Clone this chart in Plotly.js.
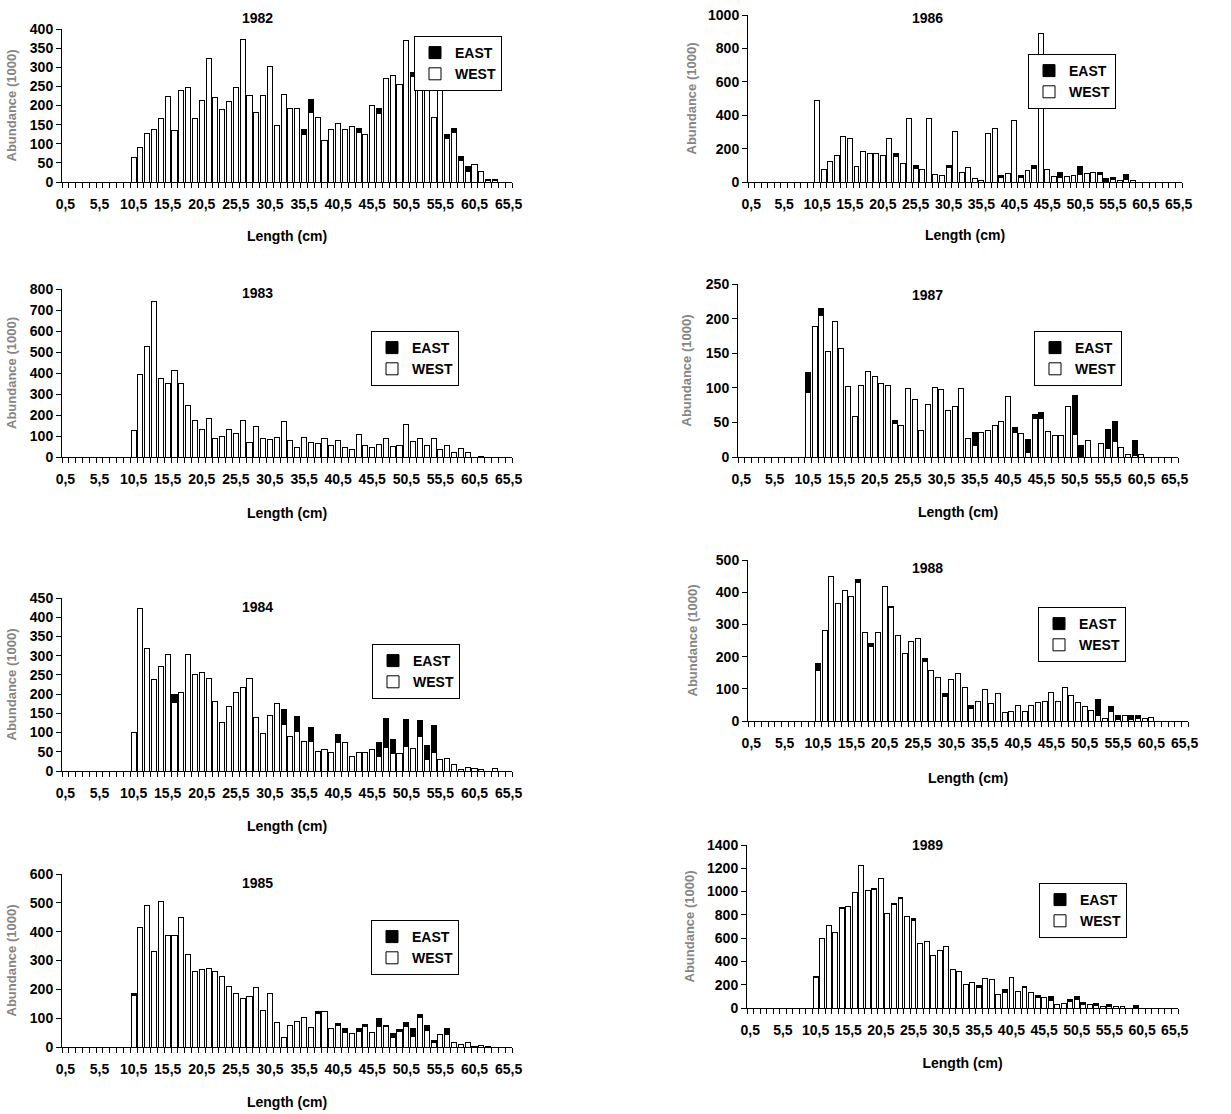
<!DOCTYPE html>
<html>
<head>
<meta charset="utf-8">
<script src="https://cdn.plot.ly/plotly-3.0.1.min.js"></script>
<style>html,body{margin:0;padding:0;background:#fff;}#chart{width:1231px;height:1114px;}</style>
</head>
<body>
<div id="chart"></div>
<script>
// Length classes (cm), one per category on the x axis
const lengthClasses = [0.5,1.5,2.5,3.5,4.5,5.5,6.5,7.5,8.5,9.5,10.5,11.5,12.5,13.5,14.5,15.5,16.5,17.5,18.5,19.5,
  20.5,21.5,22.5,23.5,24.5,25.5,26.5,27.5,28.5,29.5,30.5,31.5,32.5,33.5,34.5,35.5,36.5,37.5,38.5,39.5,
  40.5,41.5,42.5,43.5,44.5,45.5,46.5,47.5,48.5,49.5,50.5,51.5,52.5,53.5,54.5,55.5,56.5,57.5,58.5,59.5,
  60.5,61.5,62.5,63.5,64.5,65.5];
const tickValues = [0.5,5.5,10.5,15.5,20.5,25.5,30.5,35.5,40.5,45.5,50.5,55.5,60.5,65.5];
const tickLabels = ["0,5","5,5","10,5","15,5","20,5","25,5","30,5","35,5","40,5","45,5","50,5","55,5","60,5","65,5"];
const seriesNames = ["WEST","EAST"];
const years = ["1982","1983","1984","1985","1986","1987","1988","1989"];

// Abundance (1000), series start at the 10,5 cm class
const west1982 = [65,90,128,137,165,223,135,238,248,167, 213,322,222,190,210,247,373,227,182,225,
  303,147,230,193,193,125,182,168,108,138, 153,137,145,129,125,200,179,270,278,255,
  370,277,290,255,168,288,115,130,55,28, 47,28,3,3];
const east1982 = [0,0,0,0,0,0,0,0,0,0, 0,0,0,0,0,0,0,0,0,0,
  0,0,0,0,0,13,35,0,0,0, 0,0,0,10,0,0,12,0,0,0,
  0,10,37,10,0,0,10,10,12,13, 0,0,4,3];

const west1983 = [128,394,528,740,373,351,412,348,245,175, 130,184,89,98,129,114,175,70,145,89,
  84,94,170,78,45,92,67,62,89,54, 80,45,35,105,57,45,60,86,52,57,
  153,72,87,57,89,37,57,22,40,20, 0,4];
const east1983 = [0,0,0,0,0,0,0,0,0,0, 0,0,0,0,0,0,0,0,0,0,
  0,0,0,0,0,0,0,0,0,0, 0,0,0,0,0,0,0,0,0,0,
  0,0,0,0,0,0,0,0,0,0, 0,0];

const west1984 = [100,422,318,238,273,302,178,204,302,250, 256,240,182,125,168,205,217,241,140,97,
  144,176,120,89,104,78,78,51,57,49, 73,74,38,47,47,57,38,62,45,46,
  65,59,91,31,47,29,32,16,4,10, 7,3,0,7];
const east1984 = [0,0,0,0,0,0,22,0,0,0, 0,0,0,0,0,0,0,0,0,0,
  0,0,39,0,37,0,35,0,0,0, 22,0,0,0,0,0,36,75,37,0,
  70,0,40,36,71,0,0,0,0,0, 0,0,0,0];

const west1985 = [178,416,492,330,503,385,385,448,322,263, 270,273,263,245,211,185,167,175,205,126,
  187,86,32,73,88,103,67,117,124,64, 73,52,46,54,72,51,72,71,34,53,
  72,37,104,57,14,44,43,15,9,14, 2,4,2];
const east1985 = [6,0,0,0,0,0,0,0,0,0, 0,0,0,0,0,0,0,0,0,0,
  0,0,0,0,0,0,0,7,0,0, 8,12,0,10,7,0,26,5,12,6,
  14,27,8,19,9,0,21,0,0,0, 0,0,0];

const west1986 = [490,75,120,158,275,262,95,183,168,168, 160,258,155,113,378,82,75,378,42,36,
  84,300,54,86,20,12,288,322,24,50, 368,24,70,80,888,72,32,28,32,36,
  46,52,58,45,5,14,8,14,8];
const east1986 = [0,0,0,0,0,0,0,0,0,0, 0,0,15,0,0,16,0,0,0,0,
  16,0,0,0,0,0,0,0,16,0, 0,12,0,16,0,0,0,26,0,0,
  44,0,0,13,15,10,2,28,0];

const west1987 = [93,189,205,153,196,157,102,59,104,123, 117,106,103,49,45,99,83,38,76,100,
  97,67,73,99,27,16,36,38,45,52, 87,35,34,7,55,55,37,31,31,73,
  32,0,24,0,19,13,23,14,4,2, 3];
const east1987 = [29,0,9,0,0,0,0,0,0,0, 0,0,0,4,0,0,0,0,0,0,
  0,0,0,0,0,20,0,0,0,0, 0,8,0,19,6,9,0,0,0,0,
  57,16,0,0,0,27,29,0,0,22, 0];

const west1988 = [156,280,450,364,405,387,430,274,230,276, 419,352,264,211,246,256,186,156,135,75,
  129,149,103,40,62,97,55,86,26,29, 48,31,48,59,62,89,61,103,78,56,
  44,32,16,9,30,5,16,4,9,8, 12];
const east1988 = [24,0,0,0,0,0,10,0,10,0, 0,5,0,0,0,0,8,0,0,10,
  0,0,0,8,0,0,0,0,0,0, 0,0,0,0,0,0,0,0,0,0,
  0,0,52,0,14,13,0,13,7,0, 0];

const west1989 = [262,600,705,650,851,875,995,1220,1010,1020, 1110,815,889,943,785,754,550,575,450,490,
  530,330,315,200,215,180,250,242,118,137, 258,143,174,137,91,86,66,29,40,57,
  71,29,29,23,11,9,11,11,0,3];
const east1989 = [8,0,0,0,14,0,0,0,0,10, 0,0,8,8,0,15,0,0,0,0,
  0,0,0,0,0,11,0,0,0,20, 0,0,12,0,18,0,31,0,0,20,
  29,17,0,17,0,20,0,0,0,20];

const firstClassIndex = 10;

const W = 1231, H = 1114;
const px = v => v / W;
const py = v => 1 - v / H;
const FONT = "Liberation Sans, Arial, Helvetica, sans-serif";

// layout boxes in pixels
const panels = [
  {year: years[0], west: west1982, east: east1982, ymax: 400,  dtick: 50,  x0: 62,  x1: 512,  top: 29,  bot: 182, tx: 257, ty: 18,  lx: 502,  ly: 36,  xs: 20, ys: 10},
  {year: years[1], west: west1983, east: east1983, ymax: 800,  dtick: 100, x0: 62,  x1: 512,  top: 289, bot: 457, tx: 257, ty: 293, lx: 459,  ly: 331, xs: 22, ys: 10},
  {year: years[2], west: west1984, east: east1984, ymax: 450,  dtick: 50,  x0: 62,  x1: 512,  top: 598, bot: 771, tx: 257, ty: 607, lx: 460,  ly: 644, xs: 21, ys: 10},
  {year: years[3], west: west1985, east: east1985, ymax: 600,  dtick: 100, x0: 62,  x1: 512,  top: 874, bot: 1047,tx: 257, ty: 883, lx: 459,  ly: 920, xs: 21, ys: 10},
  {year: years[4], west: west1986, east: east1986, ymax: 1000, dtick: 200, x0: 748, x1: 1182, top: 15,  bot: 182, tx: 927, ty: 18,  lx: 1116, ly: 54,  xs: 19, ys: 8},
  {year: years[5], west: west1987, east: east1987, ymax: 250,  dtick: 50,  x0: 738, x1: 1178, top: 284, bot: 457, tx: 927, ty: 295, lx: 1122, ly: 331, xs: 21, ys: 11},
  {year: years[6], west: west1988, east: east1988, ymax: 500,  dtick: 100, x0: 748, x1: 1188, top: 560, bot: 721, tx: 927, ty: 568, lx: 1126, ly: 607, xs: 23, ys: 15},
  {year: years[7], west: west1989, east: east1989, ymax: 1400, dtick: 200, x0: 747, x1: 1178, top: 845, bot: 1008,tx: 927, ty: 845, lx: 1127, ly: 883, xs: 21, ys: 9}
];

const traces = [];
const layout = {
  width: W, height: H, autosize: false,
  margin: {l: 0, r: 0, t: 0, b: 0, pad: 0},
  paper_bgcolor: '#fff', plot_bgcolor: 'rgba(0,0,0,0)',
  barmode: 'stack', bargap: 0.25,
  font: {family: FONT, size: 13, color: '#000'},
  annotations: [], showlegend: true
};

panels.forEach((p, i) => {
  const n = i + 1;
  const sfx = n === 1 ? '' : String(n);
  const legName = 'legend' + sfx;
  const xs = lengthClasses.slice(firstClassIndex, firstClassIndex + p.west.length);
  traces.push({
    type: 'bar', name: seriesNames[0], x: xs, y: p.west,
    xaxis: 'x' + sfx, yaxis: 'y' + sfx, legend: legName,
    marker: {color: '#ffffff', line: {color: '#000', width: 1}},
    hoverinfo: 'x+y+name'
  });
  traces.push({
    type: 'bar', name: seriesNames[1], x: xs, y: p.east,
    xaxis: 'x' + sfx, yaxis: 'y' + sfx, legend: legName,
    marker: {color: '#000000', line: {color: '#000', width: 1}},
    hoverinfo: 'x+y+name'
  });
  layout['xaxis' + sfx] = {
    domain: [px(p.x0), px(p.x1)], anchor: 'y' + sfx,
    range: [0, 66], type: 'linear',
    tickmode: 'array', tickvals: tickValues, ticktext: tickLabels,
    ticks: '', ticklabelstandoff: 9,
    tickfont: {family: FONT, size: 14, weight: 'bold', color: '#000'},
    showline: true, linecolor: '#000', linewidth: 1,
    showgrid: false, zeroline: false, fixedrange: true,
    minor: {tickmode: 'linear', tick0: 0, dtick: 1, ticks: 'outside', ticklen: 5, tickwidth: 1, tickcolor: '#000', showgrid: false},
    title: {text: 'Length (cm)', standoff: p.xs, font: {family: FONT, size: 14, weight: 'bold', color: '#000'}}
  };
  layout['yaxis' + sfx] = {
    domain: [py(p.bot), py(p.top)], anchor: 'x' + sfx,
    range: [0, p.ymax], tick0: 0, dtick: p.dtick, tickmode: 'linear',
    ticks: 'outside', ticklen: 5, tickwidth: 1, tickcolor: '#000',
    tickfont: {family: FONT, size: 14, weight: 'bold', color: '#000'},
    showline: true, linecolor: '#000', linewidth: 1,
    showgrid: false, zeroline: false, fixedrange: true,
    title: {text: 'Abundance (1000)', standoff: p.ys, font: {family: FONT, size: 13, weight: 'bold', color: '#858585'}}
  };
  layout[legName] = {
    x: px(p.lx), y: py(p.ly), xanchor: 'right', yanchor: 'top',
    xref: 'paper', yref: 'paper',
    bordercolor: '#000', borderwidth: 1, bgcolor: '#fff',
    traceorder: 'reversed',
    font: {family: FONT, size: 14, weight: 'bold', color: '#000'},
    itemwidth: 30
  };
  layout.annotations.push({
    text: p.year, xref: 'paper', yref: 'paper', x: px(p.tx), y: py(p.ty),
    xanchor: 'center', yanchor: 'middle', showarrow: false,
    font: {family: FONT, size: 14, weight: 'bold', color: '#000'}
  });
});

Plotly.newPlot('chart', traces, layout, {displayModeBar: false, staticPlot: true});
</script>
</body>
</html>
